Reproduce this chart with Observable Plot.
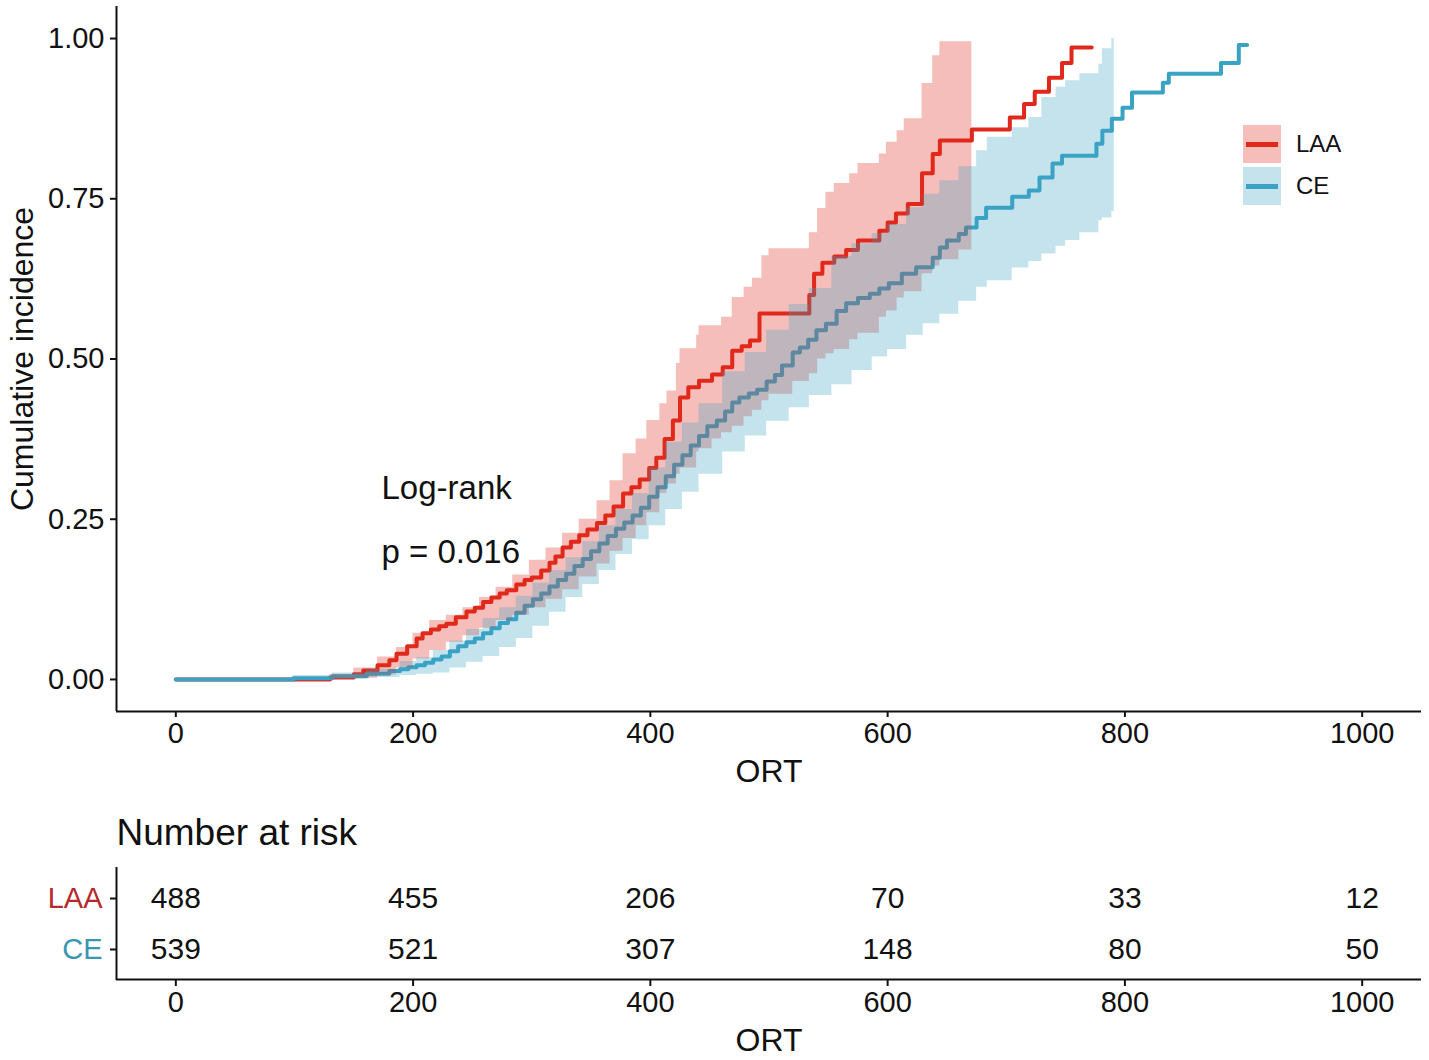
<!DOCTYPE html>
<html><head><meta charset="utf-8">
<script src="https://cdn.jsdelivr.net/npm/d3@7"></script>
<script src="https://cdn.jsdelivr.net/npm/@observablehq/plot@0.6"></script>
<style>
body{margin:0;background:#fff;font-family:"Liberation Sans",Arial,sans-serif;}
#wrap{position:relative;width:1429px;height:1060px;overflow:hidden;}
#wrap svg{display:block;}
.leg{position:absolute;left:1243px;}
.key{position:absolute;left:0;width:38px;height:38px;}
.key i{position:absolute;left:3px;top:17px;width:32px;height:5px;}
.lab{position:absolute;left:53px;top:6px;font-size:24px;color:#111;white-space:nowrap;}
</style></head><body><div id="wrap"></div>
<script>
const groups = ["LAA", "CE"];
const groupColors = ["#E0291C", "#3AA3C4"];
const tableLabelColors = ["#B52A2A", "#3996B3"];

const laaTime = [0,130,150,158,170,180,186,195,203,208,215,222,228,236,245,252,259,266,273,279,287,294,300,308,315,320,326,333,340,347,355,362,369,377,384,391,399,405,412,419,425,432,441,452,461,469,477,484,492,534,538,545,555,565,575,593,600,607,617,629,638,644,671,703,715,724,736,747,755,772];
const laaEst = [0,0.003,0.008,0.014,0.022,0.03,0.04,0.052,0.064,0.072,0.078,0.083,0.087,0.097,0.106,0.112,0.121,0.128,0.134,0.139,0.148,0.155,0.159,0.17,0.182,0.192,0.206,0.215,0.225,0.234,0.244,0.256,0.27,0.29,0.3,0.312,0.33,0.346,0.375,0.404,0.44,0.456,0.466,0.476,0.487,0.513,0.52,0.529,0.571,0.60,0.633,0.65,0.66,0.67,0.685,0.70,0.713,0.727,0.742,0.79,0.82,0.841,0.858,0.877,0.898,0.917,0.939,0.962,0.986,0.986];

const ceTime = [0,99,132,161,180,189,196,203,210,217,224,231,238,245,252,259,266,273,280,287,294,301,308,315,322,329,336,343,350,357,364,371,378,385,392,399,406,413,420,427,434,441,448,456,463,469,475,483,490,498,505,511,520,526,533,540,548,557,565,575,585,593,601,612,624,638,644,650,660,666,675,683,705,719,728,739,747,776,781,789,798,806,832,837,881,896,903];
const ceEst = [0,0.002,0.005,0.009,0.013,0.016,0.019,0.022,0.026,0.031,0.036,0.044,0.052,0.058,0.064,0.072,0.08,0.088,0.094,0.104,0.115,0.125,0.134,0.145,0.155,0.165,0.177,0.188,0.2,0.212,0.224,0.235,0.245,0.256,0.268,0.285,0.3,0.317,0.335,0.35,0.365,0.38,0.395,0.404,0.418,0.432,0.44,0.446,0.452,0.465,0.475,0.49,0.51,0.518,0.53,0.545,0.555,0.575,0.587,0.595,0.602,0.61,0.618,0.633,0.643,0.658,0.674,0.685,0.695,0.705,0.72,0.736,0.753,0.763,0.783,0.805,0.817,0.836,0.856,0.875,0.892,0.916,0.931,0.945,0.962,0.99,0.99];

const laaBandTime = [130,150,170,186,200,214,228,242,256,270,284,298,312,326,340,355,366,377,388,397,408,414,422,425,439,441,452,460,469,479,486,494,500,520,534,541,548,555,568,575,593,599,608,614,629,638,644,660,671];
const laaUpper = [0.008,0.018,0.035,0.05,0.072,0.092,0.10,0.112,0.128,0.144,0.163,0.186,0.205,0.228,0.25,0.279,0.31,0.352,0.375,0.404,0.43,0.45,0.493,0.516,0.537,0.552,0.552,0.565,0.596,0.612,0.626,0.661,0.672,0.672,0.697,0.735,0.76,0.774,0.789,0.805,0.82,0.838,0.856,0.875,0.93,0.973,0.995,0.995,0.995];
const laaLower = [0,0.002,0.007,0.018,0.032,0.045,0.058,0.068,0.08,0.092,0.10,0.112,0.125,0.14,0.16,0.18,0.2,0.22,0.24,0.26,0.29,0.305,0.32,0.33,0.355,0.36,0.375,0.385,0.395,0.41,0.42,0.435,0.445,0.465,0.477,0.5,0.508,0.515,0.53,0.54,0.565,0.575,0.595,0.605,0.633,0.645,0.655,0.67,0.685];

const ceBandTime = [99,132,161,189,203,217,231,245,259,273,287,301,315,329,343,357,371,385,399,413,427,441,461,480,498,517,534,553,570,587,600,616,630,644,660,675,684,705,719,730,742,750,762,778,781,789,791];
const ceUpper = [0.006,0.01,0.016,0.028,0.034,0.045,0.06,0.078,0.095,0.112,0.13,0.15,0.17,0.19,0.215,0.24,0.265,0.29,0.33,0.37,0.4,0.43,0.48,0.51,0.545,0.585,0.61,0.66,0.68,0.696,0.71,0.736,0.757,0.778,0.80,0.825,0.846,0.861,0.877,0.908,0.924,0.934,0.945,0.96,0.984,1.0,1.0];
const ceLower = [0,0.001,0.003,0.006,0.008,0.01,0.018,0.027,0.036,0.05,0.064,0.083,0.105,0.128,0.148,0.17,0.195,0.218,0.24,0.265,0.292,0.32,0.355,0.38,0.403,0.424,0.443,0.46,0.482,0.503,0.515,0.537,0.555,0.57,0.59,0.612,0.622,0.642,0.652,0.664,0.676,0.685,0.697,0.716,0.72,0.73,0.732];

const xTicks = [0,200,400,600,800,1000];
const yTicks = [0,0.25,0.5,0.75,1];
const riskTimes = [0,200,400,600,800,1000];
const laaRisk = [488,455,206,70,33,12];
const ceRisk = [539,521,307,148,80,50];
const pvalLabels = ["Log-rank", "p = 0.016"];

const xDomain = [-50, 1050];
const yDomain = [-0.05, 1.05];
const font = '"Liberation Sans", Arial, sans-serif';

const laaLine = laaTime.map((t, i) => ({t, v: laaEst[i]}));
const ceLine = ceTime.map((t, i) => ({t, v: ceEst[i]}));
const laaBand = laaBandTime.map((t, i) => ({t, lo: laaLower[i], hi: laaUpper[i]}));
const ceBand = ceBandTime.map((t, i) => ({t, lo: ceLower[i], hi: ceUpper[i]}));

const main = Plot.plot({
  width: 1429, height: 790,
  marginLeft: 116, marginRight: 8, marginTop: 6, marginBottom: 79,
  style: {fontFamily: font, fontSize: "29px", color: "#111", background: "#fff"},
  x: {domain: xDomain},
  y: {domain: yDomain},
  marks: [
    Plot.lineY(laaLine, {x: "t", y: "v", curve: "step-after", stroke: groupColors[0], strokeWidth: 4}),
    Plot.lineY(ceLine, {x: "t", y: "v", curve: "step-after", stroke: groupColors[1], strokeWidth: 4}),
    Plot.areaY(laaBand, {x: "t", y1: "lo", y2: "hi", curve: "step-after", fill: groupColors[0], fillOpacity: 0.3}),
    Plot.areaY(ceBand, {x: "t", y1: "lo", y2: "hi", curve: "step-after", fill: groupColors[1], fillOpacity: 0.3}),
    Plot.ruleX([xDomain[0]], {stroke: "#111", strokeWidth: 2}),
    Plot.ruleY([yDomain[0]], {stroke: "#111", strokeWidth: 2}),
    Plot.axisX({ticks: xTicks, tickFormat: d => String(d), tickSize: 6, tickPadding: 5, label: null, strokeWidth: 2, fontSize: 29}),
    Plot.axisY({ticks: yTicks, tickFormat: d3.format(".2f"), tickSize: 6, tickPadding: 6, label: null, strokeWidth: 2, fontSize: 29}),
    Plot.text(["ORT"], {text: d => d, frameAnchor: "bottom", lineAnchor: "middle", textAnchor: "middle", dy: 60, fontSize: 32}),
    Plot.text(["Cumulative incidence"], {text: d => d, frameAnchor: "left", textAnchor: "middle", lineAnchor: "middle", rotate: -90, dx: -94, fontSize: 32}),
    Plot.text([pvalLabels[0]], {text: d => d, frameAnchor: "top-left", lineAnchor: "middle", dx: 265, dy: 482, textAnchor: "start", fontSize: 33}),
    Plot.text([pvalLabels[1]], {text: d => d, frameAnchor: "top-left", lineAnchor: "middle", dx: 265, dy: 546, textAnchor: "start", fontSize: 33})
  ]
});

const riskRows = riskTimes.flatMap((t, i) => [{t, g: groups[0], n: laaRisk[i]}, {t, g: groups[1], n: ceRisk[i]}]);

const table = Plot.plot({
  width: 1429, height: 270,
  marginLeft: 116, marginRight: 8, marginTop: 77, marginBottom: 80,
  style: {fontFamily: font, fontSize: "29px", color: "#111", background: "#fff"},
  x: {domain: xDomain},
  y: {type: "point", domain: groups, padding: 0.6},
  marks: [
    Plot.text(riskRows, {x: "t", y: "g", text: d => String(d.n), fontSize: 30, fill: "#111"}),
    Plot.ruleX([xDomain[0]], {stroke: "#111", strokeWidth: 2}),
    Plot.ruleY([groups[1]], {dy: 30, stroke: "#111", strokeWidth: 2}),
    Plot.axisX({ticks: riskTimes, tickFormat: d => String(d), tickSize: 6, tickPadding: 5, label: null, strokeWidth: 2, fontSize: 29}),
    Plot.axisY({tickSize: 6, tickFormat: () => "", label: null, strokeWidth: 2}),
    Plot.text(groups, {y: d => d, text: d => d, frameAnchor: "left", lineAnchor: "middle", dx: -14, textAnchor: "end", fill: d => tableLabelColors[groups.indexOf(d)], fontSize: 29}),
    Plot.text(["ORT"], {text: d => d, frameAnchor: "bottom", lineAnchor: "middle", textAnchor: "middle", dy: 60, fontSize: 32}),
    Plot.text(["Number at risk"], {text: d => d, frameAnchor: "top-left", lineAnchor: "middle", dy: -34, textAnchor: "start", fontSize: 37})
  ]
});

const wrap = document.getElementById("wrap");
wrap.appendChild(main);
wrap.appendChild(table);

// legend
const leg = document.createElement("div");
leg.className = "leg";
leg.style.top = "125px";
groups.forEach((g, i) => {
  const c = d3.color(groupColors[i]);
  const key = document.createElement("div");
  key.className = "key";
  key.style.top = (i * 42) + "px";
  key.style.background = `rgba(${c.r},${c.g},${c.b},0.3)`;
  const ln = document.createElement("i");
  ln.style.background = groupColors[i];
  key.appendChild(ln);
  leg.appendChild(key);
  const lab = document.createElement("div");
  lab.className = "lab";
  lab.style.top = (i * 42 + 5) + "px";
  lab.textContent = g;
  leg.appendChild(lab);
});
wrap.appendChild(leg);
</script>
</body></html>
